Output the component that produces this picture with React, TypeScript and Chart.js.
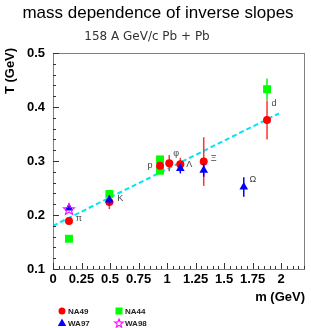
import React, { useEffect, useRef } from "react";
import { Chart, registerables } from "chart.js";
Chart.register(...registerables);

const TITLE = "mass dependence of inverse slopes";
const SUBTITLE = "158 A GeV/c Pb + Pb";
const X_TITLE = "m (GeV)";
const Y_TITLE = "T (GeV)";

const xTicks = [0, 0.25, 0.5, 0.75, 1, 1.25, 1.5, 1.75, 2];
const xTickLabels = ["0", "0.25", "0.5", "0.75", "1", "1.25", "1.5", "1.75", "2"];
const yTicks = [0.1, 0.2, 0.3, 0.4, 0.5];
const yTickLabels = ["0.1", "0.2", "0.3", "0.4", "0.5"];

const na49Mass = [0.14, 0.494, 0.938, 1.019, 1.116, 1.321, 1.876];
const na49T = [0.189, 0.224, 0.291, 0.296, 0.294, 0.299, 0.376];
const na49Err = [0, 0.013, 0, 0.015, 0.012, 0.045, 0.036];

const na44Mass = [0.14, 0.494, 0.938, 0.938, 1.876];
const na44T = [0.156, 0.239, 0.303, 0.282, 0.433];
const na44Err = [0, 0, 0, 0, 0.02];

const wa97Mass = [0.14, 0.494, 1.116, 1.321, 1.672];
const wa97T = [0.213, 0.228, 0.286, 0.283, 0.252];
const wa97Err = [0, 0.008, 0.009, 0.012, 0.018];

const wa98Mass = [0.14];
const wa98T = [0.211];

const fitMass = [0, 1.98];
const fitT = [0.18, 0.388];

const particleLabels = ["π", "K", "p", "φ", "Λ", "Ξ", "Ω", "d"];
const particleMass = [0.14, 0.494, 0.938, 1.019, 1.116, 1.321, 1.672, 1.876];
const particleT = [0.189, 0.224, 0.291, 0.296, 0.294, 0.299, 0.252, 0.376];
const labelOffsets = [[10, -2], [11, -4], [-10, 0], [7, -10], [9, 0], [10, -3], [9, -7], [7, -16]];

const legendNames = ["NA49", "NA44", "WA97", "WA98"];

const RED = "#ff0000";
const GREEN = "#00ff00";
const BLUE = "#0000ff";
const MAGENTA = "#ff00ff";
const CYAN = "#00e5f5";
const FONT = '"Liberation Sans", Arial, sans-serif';

function pts(xs: number[], ys: number[]) {
  return xs.map((x, i) => ({ x, y: ys[i] }));
}

function drawStar(ctx: CanvasRenderingContext2D, cx: number, cy: number, R: number, color: string) {
  const r = R * 0.42;
  ctx.save();
  ctx.beginPath();
  for (let i = 0; i < 10; i++) {
    const a = -Math.PI / 2 + (i * Math.PI) / 5;
    const rr = i % 2 === 0 ? R : r;
    const px = cx + rr * Math.cos(a);
    const py = cy + rr * Math.sin(a);
    if (i === 0) ctx.moveTo(px, py);
    else ctx.lineTo(px, py);
  }
  ctx.closePath();
  ctx.strokeStyle = color;
  ctx.lineWidth = 1.1;
  ctx.stroke();
  ctx.restore();
}

export default function App() {
  const ref = useRef<HTMLCanvasElement | null>(null);
  useEffect(() => {
    const canvas = ref.current!;
    const star = document.createElement("canvas");
    star.width = 14;
    star.height = 14;
    drawStar(star.getContext("2d")!, 7, 7.5, 6, MAGENTA);

    const decor = {
      id: "decor",
      beforeDatasetDraw(chart: any, args: any) {
        const ds = chart.data.datasets[args.index];
        if (!ds.errors) return;
        const ctx = chart.ctx;
        const xs = chart.scales.x;
        const ys = chart.scales.y;
        ctx.save();
        ctx.strokeStyle = ds.errColor;
        ctx.lineWidth = 1.5;
        ds.data.forEach((p: any, i: number) => {
          const e = ds.errors[i];
          if (!e) return;
          const px = xs.getPixelForValue(p.x);
          ctx.beginPath();
          ctx.moveTo(px, ys.getPixelForValue(p.y - e));
          ctx.lineTo(px, ys.getPixelForValue(p.y + e));
          ctx.stroke();
        });
        ctx.restore();
      },
      afterDraw(chart: any) {
        const ctx = chart.ctx as CanvasRenderingContext2D;
        const a = chart.chartArea;
        const xs = chart.scales.x;
        const ys = chart.scales.y;
        ctx.save();
        // frame
        ctx.strokeStyle = "#808080";
        ctx.lineWidth = 1;
        ctx.strokeRect(Math.round(a.left) + 0.5, Math.round(a.top) + 0.5, Math.round(a.right - a.left), Math.round(a.bottom - a.top));
        // ticks
        ctx.strokeStyle = "#333";
        ctx.lineWidth = 1;
        for (let i = 0; i <= 44; i++) {
          const v = i * 0.05;
          const px = Math.round(xs.getPixelForValue(v)) + 0.5;
          const len = i % 5 === 0 ? 6 : 3;
          ctx.beginPath();
          ctx.moveTo(px, a.bottom);
          ctx.lineTo(px, a.bottom - len);
          ctx.stroke();
        }
        for (let i = 0; i <= 20; i++) {
          const v = 0.1 + i * 0.02;
          const py = Math.round(ys.getPixelForValue(v)) + 0.5;
          const len = i % 5 === 0 ? 6 : 3;
          ctx.beginPath();
          ctx.moveTo(a.left, py);
          ctx.lineTo(a.left + len, py);
          ctx.stroke();
        }
        // titles
        ctx.fillStyle = "#000";
        ctx.textAlign = "center";
        ctx.textBaseline = "middle";
        ctx.font = `17px ${FONT}`;
        ctx.fillText(TITLE, 158, 13);
        ctx.fillStyle = "#333";
        ctx.font = `12px "DejaVu Sans", sans-serif`;
        ctx.fillText(SUBTITLE, 147, 37);
        ctx.fillStyle = "#000";
        ctx.font = `bold 13px ${FONT}`;
        ctx.textAlign = "right";
        ctx.fillText(X_TITLE, 305, 297);
        ctx.save();
        ctx.translate(10, 71);
        ctx.rotate(-Math.PI / 2);
        ctx.textAlign = "center";
        ctx.font = `bold 13px ${FONT}`;
        ctx.fillText(Y_TITLE, 0, 0);
        ctx.restore();
        // particle labels
        ctx.fillStyle = "#444";
        ctx.font = `9px ${FONT}`;
        ctx.textAlign = "center";
        particleLabels.forEach((t, i) => {
          const px = xs.getPixelForValue(particleMass[i]) + labelOffsets[i][0];
          const py = ys.getPixelForValue(particleT[i]) + labelOffsets[i][1];
          ctx.fillText(t, px, py);
        });
        // legend
        const lx = [62, 119];
        const ly = [311, 323];
        ctx.font = `bold 8px ${FONT}`;
        ctx.textAlign = "left";
        legendNames.forEach((n, i) => {
          const cx = lx[i % 2];
          const cy = ly[Math.floor(i / 2)];
          ctx.fillStyle = "#222";
          ctx.fillText(n, cx + 6, cy + 0.5);
        });
        ctx.fillStyle = RED;
        ctx.beginPath();
        ctx.arc(lx[0], ly[0], 3.5, 0, Math.PI * 2);
        ctx.fill();
        ctx.fillStyle = GREEN;
        ctx.fillRect(lx[1] - 3.5, ly[0] - 3.5, 7, 7);
        ctx.fillStyle = BLUE;
        ctx.beginPath();
        ctx.moveTo(lx[0], ly[1] - 4.5);
        ctx.lineTo(lx[0] + 4.2, ly[1] + 3);
        ctx.lineTo(lx[0] - 4.2, ly[1] + 3);
        ctx.closePath();
        ctx.fill();
        drawStar(ctx, lx[1], ly[1] + 0.5, 4.5, MAGENTA);
        ctx.restore();
      },
    };

    const tickFont = { family: FONT, weight: "bold" as const, size: 13 };
    const chart = new Chart(canvas, {
      type: "scatter",
      data: {
        datasets: [
          {
            type: "line",
            data: pts(fitMass, fitT),
            borderColor: CYAN,
            borderDash: [5, 3],
            borderWidth: 2,
            pointRadius: 0,
            fill: false,
            order: 5,
          } as any,
          {
            label: "NA44",
            data: pts(na44Mass, na44T),
            pointStyle: "rect",
            pointRadius: 5.6,
            backgroundColor: GREEN,
            borderColor: GREEN,
            borderWidth: 0,
            errors: na44Err,
            errColor: GREEN,
            order: 4,
          } as any,
          {
            label: "NA49",
            data: pts(na49Mass, na49T),
            pointStyle: "circle",
            pointRadius: 4,
            backgroundColor: RED,
            borderColor: RED,
            borderWidth: 0,
            errors: na49Err,
            errColor: "#ff3333",
            order: 3,
          } as any,
          {
            label: "WA97",
            data: pts(wa97Mass, wa97T),
            pointStyle: "triangle",
            pointRadius: 5,
            backgroundColor: BLUE,
            borderColor: BLUE,
            borderWidth: 0,
            errors: wa97Err,
            errColor: BLUE,
            order: 2,
          } as any,
          {
            label: "WA98",
            data: pts(wa98Mass, wa98T),
            pointStyle: star,
            pointRadius: 6,
            order: 1,
          } as any,
        ],
      },
      options: {
        animation: false,
        responsive: false,
        maintainAspectRatio: false,
        devicePixelRatio: 1,
        layout: { padding: { left: 0, top: 53, right: 1, bottom: 0 } },
        plugins: { legend: { display: false }, tooltip: { enabled: false }, title: { display: false } },
        scales: {
          x: {
            type: "linear",
            min: 0,
            max: 2.2,
            afterBuildTicks: (s: any) => {
              s.ticks = xTicks.map((v) => ({ value: v }));
            },
            afterFit: (s: any) => {
              s.height = 59;
              s.paddingLeft = 0;
              s.paddingRight = 0;
            },
            ticks: {
              callback: (_v: any, i: number) => xTickLabels[i],
              font: tickFont,
              color: "#000",
              padding: 3,
              maxRotation: 0,
              autoSkip: false,
            },
            grid: { display: true, drawOnChartArea: false, drawTicks: false },
            border: { display: false },
          },
          y: {
            type: "linear",
            min: 0.1,
            max: 0.5,
            afterBuildTicks: (s: any) => {
              s.ticks = yTicks.map((v) => ({ value: v }));
            },
            afterFit: (s: any) => {
              s.width = 53;
              s.paddingTop = 0;
              s.paddingBottom = 0;
            },
            ticks: {
              callback: (_v: any, i: number) => yTickLabels[i],
              font: tickFont,
              color: "#000",
              padding: 8,
              autoSkip: false,
            },
            grid: { display: true, drawOnChartArea: false, drawTicks: false },
            border: { display: false },
          },
        },
      } as any,
      plugins: [decor],
    });
    return () => chart.destroy();
  }, []);

  return (
    <div style={{ position: "absolute", left: 0, top: 0, width: 311, height: 328, background: "#fff" }}>
      <canvas ref={ref} width={311} height={328} style={{ display: "block", width: 311, height: 328 }} />
    </div>
  );
}
